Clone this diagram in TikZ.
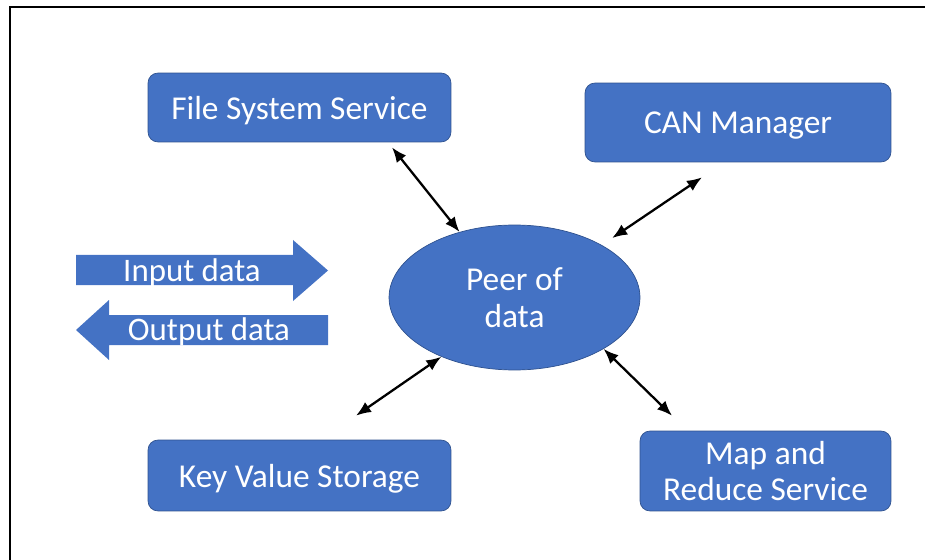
\documentclass[tikz,border=0pt]{standalone}
\usepackage{fontspec}
\setmainfont{Carlito}
\usetikzlibrary{arrows.meta,shapes.geometric}

\definecolor{boxblue}{HTML}{4472C4}
\definecolor{boxedge}{HTML}{2F528F}

\tikzset{
  box/.style={draw=boxedge, fill=boxblue, rounded corners=0.2cm, text=white,
    align=center, inner sep=0pt, font=\fontsize{19}{21}\selectfont},
  onebox/.style={box, text depth=0pt},
  peerbox/.style={box, ellipse, rounded corners=0pt},
  flowtext/.style={text=white, inner sep=0pt, font=\fontsize{18.7}{21}\selectfont},
  link/.style={{Latex[length=0.3cm,width=0.24cm]}-{Latex[length=0.3cm,width=0.24cm]}, line width=1.3pt}
}

\begin{document}
\begin{tikzpicture}[x=0.02cm, y=-0.02cm]
  \useasboundingbox (0,0) rectangle (925,560);
  % frame
  \draw[line width=1.2pt] (10,560) -- (10,7) -- (925,7);

  \node[onebox, minimum width=6.06cm, minimum height=1.38cm] (fs) at (299.5,107.5) {File System Service};
  \node[onebox, minimum width=6.12cm, minimum height=1.58cm] (can) at (738,122.5) {CAN Manager};
  \node[onebox, minimum width=6.06cm, minimum height=1.42cm] (kv) at (299.5,475.5) {Key Value Storage};
  \node[box, minimum width=5.02cm, minimum height=1.6cm] (map) at (765.5,471) {Map and\\Reduce Service};
  \node[peerbox, minimum width=5.02cm, minimum height=2.9cm] (peer) at (514.5,297.5) {Peer of\\data};

  % data in and out
  \fill[boxblue] (76,255) -- (293,255) -- (293,240) -- (328,270.5) -- (293,301)
    -- (293,285) -- (76,285) -- cycle;
  \fill[boxblue] (328,315) -- (109,315) -- (109,300) -- (76,330) -- (109,360)
    -- (109,345) -- (328,345) -- cycle;
  \node[flowtext] (in) at (192,273) {Input data};
  \node[flowtext] (out) at (209,332) {Output data};

  \begin{scope}[link]
    \draw ([xshift=1.85cm,yshift=-0.1cm]fs.south) -- (peer.130);
    \draw[shorten >=0.25cm] ([xshift=-0.72cm,yshift=-0.3cm]can.south) -- (peer.31);
    \draw ([xshift=1.13cm,yshift=0.48cm]kv.north) -- (peer.219);
    \draw ([xshift=-1.87cm,yshift=0.3cm]map.north) -- (peer.330);
  \end{scope}
\end{tikzpicture}
\end{document}
